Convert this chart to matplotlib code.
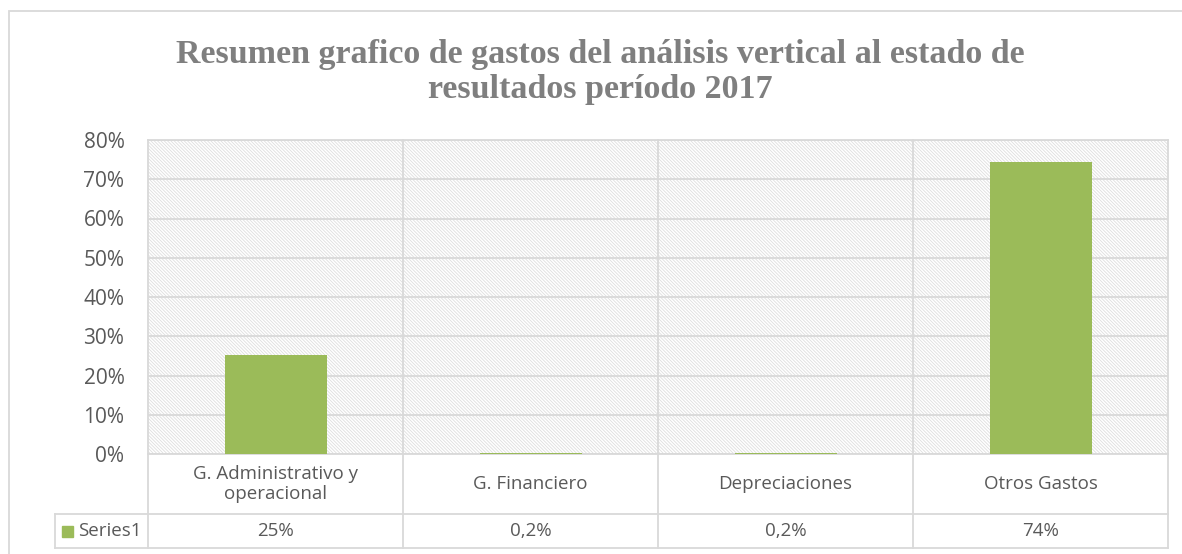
import matplotlib.pyplot as plt
import numpy as np
from matplotlib.patches import Rectangle
from matplotlib.ticker import PercentFormatter
from matplotlib.transforms import blended_transform_factory

categories = ['G. Administrativo y\noperacional', 'G. Financiero', 'Depreciaciones', 'Otros Gastos']
values = [0.251, 0.002, 0.002, 0.744]          # share of total
value_labels = ['25%', '0,2%', '0,2%', '74%']
series_name = 'Series1'
yticks = [0.0, 0.1, 0.2, 0.3, 0.4, 0.5, 0.6, 0.7, 0.8]
title1 = 'Resumen grafico de gastos del análisis vertical al estado de'
title2 = 'resultados período 2017'

W, H = 1182, 554
green, grid, txt = '#9BBB59', '#D9D9D9', '#595959'
plt.rcParams['font.family'] = ['Open Sans', 'DejaVu Sans']
plt.rcParams['hatch.linewidth'] = 0.6

def fx(px): return px / W                 # pixel -> figure fraction
def fy(py): return 1 - py / H

fig = plt.figure(figsize=(W / 100, H / 100), dpi=100)
fig.add_artist(Rectangle((fx(9), fy(560)), fx(1190) - fx(9), fy(11) - fy(560),
                         transform=fig.transFigure, fill=False, ec=grid, lw=1.3))

top, bot = 140, 454
ax = fig.add_axes([fx(148), fy(bot), fx(1168) - fx(148), fy(top) - fy(bot)])
ax.add_patch(Rectangle((0, 0), 1, 1, transform=ax.transAxes, facecolor='white',
                       edgecolor='#DEDEDE', hatch='\\' * 10, lw=0, zorder=0))

x = np.arange(len(categories))
ax.bar(x, values, width=0.4, color=green, zorder=3)
ax.set_xlim(-0.5, len(categories) - 0.5)
ax.set_ylim(0, 0.8)
ax.set_yticks(yticks)
ax.yaxis.set_major_formatter(PercentFormatter(1.0, decimals=0))
ax.set_xticks([])
ax.tick_params(axis='y', length=0, pad=17, labelsize=15, labelcolor=txt)
ax.grid(axis='y', color=grid, lw=1.3, zorder=1)
for s in ax.spines.values():
    s.set_color(grid)
    s.set_linewidth(1.3)

# data table under the plot
ph = bot - top
def ay(py): return (bot - py) / ph      # pixel row -> axes fraction
tr = blended_transform_factory(ax.transData, ax.transAxes)
r1, r2 = 514, 548
xleft = -0.5 - (148 - 55) / 255
xr = len(categories) - 0.5
kw = dict(transform=tr, color=grid, lw=1.3, clip_on=False)
for xv in np.arange(-0.5, len(categories), 1.0):
    ax.plot([xv, xv], [1 if 0 < xv < xr else 0, ay(r2)], **kw)
ax.plot([xleft, xr], [ay(r1), ay(r1)], **kw)
ax.plot([xleft, xr], [ay(r2), ay(r2)], **kw)
ax.plot([xleft, xleft], [ay(r1), ay(r2)], **kw)

for i, (c, v) in enumerate(zip(categories, value_labels)):
    ax.text(i, ay((bot + r1) / 2), c, transform=tr, ha='center', va='center',
            fontsize=13.5, color=txt, linespacing=1.2)
    ax.text(i, ay((r1 + r2) / 2), v, transform=tr, ha='center', va='center',
            fontsize=13.5, color=txt)

fig.add_artist(Rectangle((fx(62), fy(537)), fx(73) - fx(62), fy(526) - fy(537),
                         transform=fig.transFigure, color=green))
fig.text(fx(78), fy((r1 + r2) / 2), series_name, ha='left', va='center',
         fontsize=13.5, color=txt)

fig.text(fx(600), fy(63), title1, ha='center', va='baseline', fontsize=24.5,
         fontweight='bold', color='#7F7F7F', family='Liberation Serif')
fig.text(fx(600), fy(98), title2, ha='center', va='baseline', fontsize=24.5,
         fontweight='bold', color='#7F7F7F', family='Liberation Serif')

fig.savefig('out.png', dpi=100)
